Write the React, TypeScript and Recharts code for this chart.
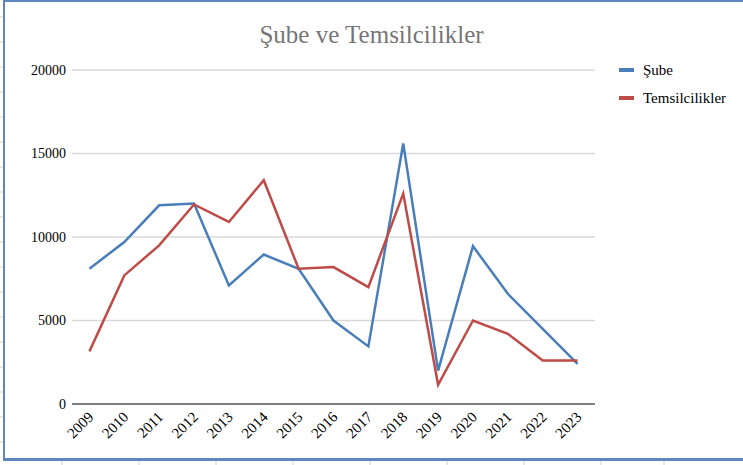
import { LineChart, Line, XAxis, YAxis, CartesianGrid } from 'recharts';

const years = ['2009', '2010', '2011', '2012', '2013', '2014', '2015', '2016', '2017', '2018', '2019', '2020', '2021', '2022', '2023'];
const sube = [8100, 9700, 11900, 12000, 7100, 8950, 8100, 5000, 3450, 15600, 2000, 9450, 6600, 4500, 2400];
const temsilcilikler = [3150, 7700, 9500, 11950, 10900, 13400, 8100, 8200, 7000, 12600, 1150, 5000, 4200, 2600, 2600];
const yTicks = [0, 5000, 10000, 15000, 20000];

const BLUE = '#4a7ebb';
const RED = '#be4b48';
const FONT = '"Liberation Serif", "DejaVu Serif", serif';

const data = years.map((y, i) => ({ year: y, sube: sube[i], temsil: temsilcilikler[i] }));

// faint spreadsheet cell lines peeking out around the chart frame
const sheetRows = Array.from({ length: 18 }, (_, k) => 17 + k * 25);
const sheetCols = [62, 139, 216, 293, 370, 447, 524, 601, 664];

function YearTick(props: any) {
  const { x, y, payload } = props;
  return (
    <g transform={`translate(${x + 5},${y + 6})`}>
      <text textAnchor="end" transform="rotate(-45)" fontSize={15} fill="#000" fontFamily={FONT}>
        {payload.value}
      </text>
    </g>
  );
}

const legendItems = [
  { label: 'Şube', color: BLUE },
  { label: 'Temsilcilikler', color: RED },
];

export default function App() {
  return (
    <div style={{ position: 'fixed', left: 0, top: 0, width: 743, height: 465, background: '#fff', overflow: 'hidden' }}>
      <svg width={743} height={465} style={{ position: 'absolute', left: 0, top: 0 }}>
        {sheetRows.map((y) => (
          <line key={'r' + y} x1={0} x2={3} y1={y} y2={y} stroke="#d0d0d0" />
        ))}
        {sheetCols.map((x) => (
          <line key={'c' + x} x1={x} x2={x} y1={461} y2={465} stroke="#d0d0d0" />
        ))}
      </svg>
      <div
        style={{
          position: 'absolute',
          left: 3,
          top: 0,
          width: 760,
          height: 461,
          borderLeft: '2px solid #5f86c0',
          borderTop: '2px solid #5f86c0',
          borderBottom: '3px solid #5f86c0',
          boxSizing: 'border-box',
        }}
      />
      <div
        style={{
          position: 'absolute',
          left: 0,
          width: 743,
          top: 21,
          textAlign: 'center',
          fontFamily: FONT,
          fontSize: 25,
          color: '#767676',
        }}
      >
        Şube ve Temsilcilikler
      </div>
      <div style={{ position: 'absolute', left: 619, top: 56, fontFamily: FONT, fontSize: 15, color: '#000' }}>
        {legendItems.map((it) => (
          <div key={it.label} style={{ display: 'flex', alignItems: 'center', height: 28 }}>
            <span style={{ display: 'inline-block', width: 15, height: 4, background: it.color, marginRight: 9 }} />
            {it.label}
          </div>
        ))}
      </div>
      <div style={{ position: 'absolute', left: 0, top: 0 }}>
        <LineChart width={743} height={465} data={data} margin={{ top: 70, right: 148, bottom: 0, left: 0 }}>
          <CartesianGrid vertical={false} stroke="#d9d9d9" strokeWidth={1.5} />
          <XAxis
            dataKey="year"
            scale="band"
            height={61}
            axisLine={{ stroke: '#808080', strokeWidth: 2 }}
            tickLine={false}
            tick={<YearTick />}
            interval={0}
          />
          <YAxis
            width={72}
            domain={[0, 20000]}
            ticks={yTicks}
            axisLine={false}
            tickLine={false}
            tickSize={0}
            tickMargin={6}
            tick={{ fontSize: 14, fill: '#000', fontFamily: FONT }}
          />
          <Line type="linear" dataKey="sube" name="Şube" stroke={BLUE} strokeWidth={2.5} dot={false} isAnimationActive={false} />
          <Line type="linear" dataKey="temsil" name="Temsilcilikler" stroke={RED} strokeWidth={2.5} dot={false} isAnimationActive={false} />
        </LineChart>
      </div>
    </div>
  );
}
